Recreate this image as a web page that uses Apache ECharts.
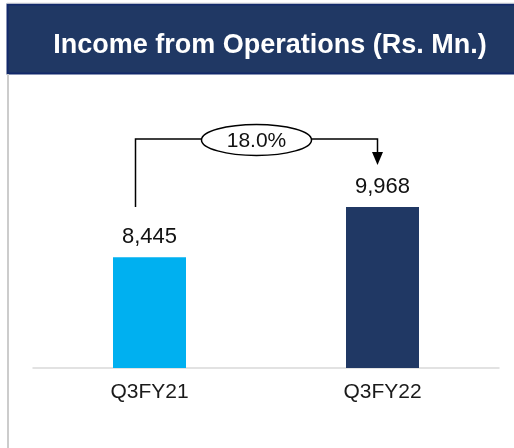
<!DOCTYPE html>
<html>
<head>
<meta charset="utf-8">
<style>
  html, body { margin: 0; padding: 0; background: #fff; }
  #main { width: 514px; height: 448px; }
</style>
<script src="https://cdn.jsdelivr.net/npm/echarts@6/dist/echarts.min.js"></script>
</head>
<body>
<div id="main"></div>
<script>
// data
var categories = ['Q3FY21', 'Q3FY22']
var income = [8445, 9968]
var barColors = ['#00B0F0', '#203864']

var growth = ((income[1] - income[0]) / income[0] * 100).toFixed(1) + '%'
var fontFamily = '"Liberation Sans", Arial, sans-serif'

var chart = echarts.init(document.getElementById('main'))

chart.setOption({
  animation: false,
  title: {
    text: 'Income from Operations (Rs. Mn.)',
    left: 265,
    top: 27,
    textAlign: 'center',
    textStyle: { color: '#fff', fontSize: 27, fontWeight: 'bold', fontFamily: fontFamily }
  },
  grid: { left: 33, right: 15, top: 100, bottom: 80 },
  xAxis: {
    type: 'category',
    data: categories,
    axisTick: { show: false },
    axisLine: { lineStyle: { color: '#d9d9d9', width: 1.5 } },
    axisLabel: { color: '#1a1a1a', fontSize: 21, margin: 14, fontFamily: fontFamily }
  },
  yAxis: {
    type: 'value',
    min: 5100,
    max: 13200,
    show: false,
    splitLine: { show: false }
  },
  series: [
    {
      type: 'bar',
      barWidth: 73,
      data: income.map(function(v, i) {
        return { value: v, itemStyle: { color: barColors[i] } }
      }),
      label: {
        show: true,
        position: 'top',
        distance: 9,
        color: '#111',
        fontSize: 22,
        fontFamily: fontFamily,
        formatter: function(p) { return p.value.toLocaleString('en-US') }
      }
    }
  ]
})

// header band, frame and growth bracket (positions from the bar scale)
var p1 = chart.convertToPixel({ seriesIndex: 0 }, [0, income[0]])
var p2 = chart.convertToPixel({ seriesIndex: 0 }, [1, income[1]])
var xl = p1[0] - 14
var xr = p2[0] - 5
var yTop = p2[1] - 68
var yLeftEnd = p2[1]
var yTip = p2[1] - 42
var cx = (xl + xr) / 2

chart.setOption({
  graphic: [
    { type: 'line', z: 0, shape: { x1: 7, y1: 3, x2: 514, y2: 3 }, style: { stroke: '#e3e3e3', lineWidth: 1 } },
    { type: 'line', z: 0, shape: { x1: 8, y1: 74, x2: 8, y2: 448 }, style: { stroke: '#cccccc', lineWidth: 2 } },
    { type: 'rect', z: -1, shape: { x: 7.5, y: 4.5, width: 508, height: 69 }, style: { fill: '#203864', stroke: '#12296a', lineWidth: 2 } },
    { type: 'polyline', shape: { points: [[xl, yLeftEnd], [xl, yTop], [cx, yTop]] }, style: { stroke: '#000', lineWidth: 1.5, fill: null } },
    { type: 'polyline', shape: { points: [[cx, yTop], [xr, yTop], [xr, yTip - 12]] }, style: { stroke: '#000', lineWidth: 1.5, fill: null } },
    { type: 'polygon', shape: { points: [[xr - 5.5, yTip - 13], [xr + 5.5, yTip - 13], [xr, yTip]] }, style: { fill: '#000' } },
    { type: 'ellipse', shape: { cx: cx, cy: yTop + 1, rx: 55, ry: 15.5 }, style: { fill: '#fff', stroke: '#000', lineWidth: 1.5 } },
    {
      type: 'text',
      x: cx,
      y: yTop + 2,
      style: { text: growth, fill: '#111', font: '21px ' + fontFamily, align: 'center', verticalAlign: 'middle' }
    }
  ]
})
</script>
</body>
</html>
